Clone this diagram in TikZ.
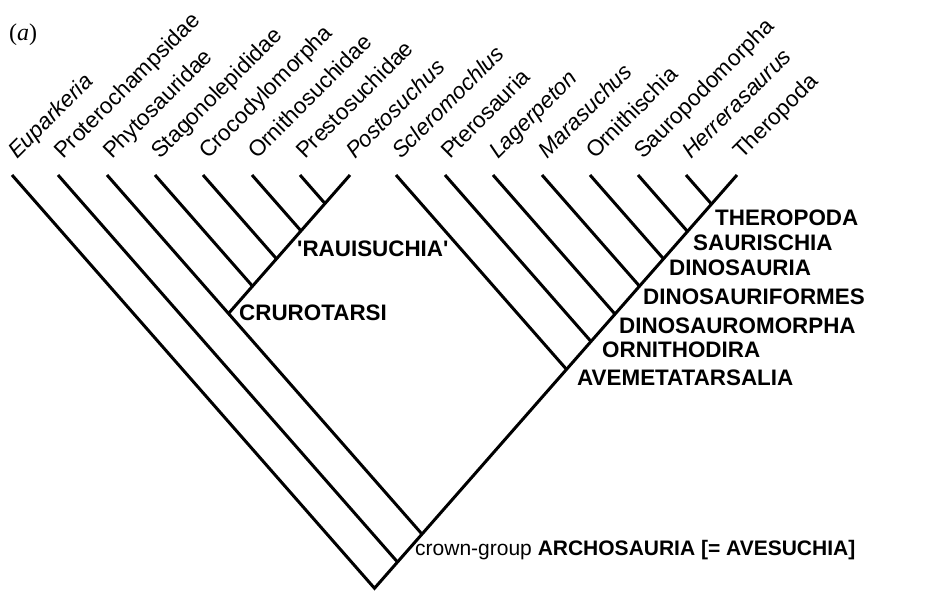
\documentclass[tikz,border=0pt]{standalone}
\usepackage{fontspec}
\setmainfont{Liberation Sans}
\newfontfamily\figfont{Liberation Serif}
\newcommand{\cladenode}[3]{\coordinate (#1) at ({(#2+#3)/2},{175+1.14*(#3-#2)/2});}
\begin{document}
\begin{tikzpicture}[x=1pt,y=-1pt,
  br/.style={line width=3pt, line cap=butt, line join=miter},
  tiplab/.style={rotate=45, anchor=base west, inner sep=0pt, font=\fontsize{22.5}{27}\selectfont},
  cladelab/.style={anchor=base west, inner sep=0pt, font=\fontsize{22.4}{27}\selectfont\bfseries}]
\useasboundingbox (0,0) rectangle (943,592);
% tips
\coordinate (eup) at (12,175);
\coordinate (pro) at (58,175);
\coordinate (phy) at (107,175);
\coordinate (sta) at (155,175);
\coordinate (cro) at (203,175);
\coordinate (orn) at (252,175);
\coordinate (pre) at (300,175);
\coordinate (pos) at (350,175);
\coordinate (scl) at (396,175);
\coordinate (pte) at (445,175);
\coordinate (lag) at (493,175);
\coordinate (mar) at (542,175);
\coordinate (ornt) at (590,175);
\coordinate (sau) at (638,175);
\coordinate (her) at (686,175);
\coordinate (the) at (737,175);
% internal nodes
\cladenode{R}{12}{737}
\cladenode{P}{58}{737}
\cladenode{A}{107}{737}
\cladenode{C}{107}{350}
\cladenode{C2}{155}{350}
\cladenode{C3}{203}{350}
\cladenode{C4}{252}{350}
\cladenode{C5}{300}{350}
\cladenode{V}{396}{737}
\cladenode{O}{445}{737}
\cladenode{D1}{493}{737}
\cladenode{D2}{542}{737}
\cladenode{D3}{590}{737}
\cladenode{S}{638}{737}
\cladenode{T}{686}{737}
% branches
\draw[br] (eup) -- (R) -- (the);
\draw[br] (pro) -- (P);
\draw[br] (phy) -- (C) -- (A);
\draw[br] (pos) -- (C);
\draw[br] (sta) -- (C2);
\draw[br] (cro) -- (C3);
\draw[br] (orn) -- (C4);
\draw[br] (pre) -- (C5);
\draw[br] (scl) -- (V);
\draw[br] (pte) -- (O);
\draw[br] (lag) -- (D1);
\draw[br] (mar) -- (D2);
\draw[br] (ornt) -- (D3);
\draw[br] (sau) -- (S);
\draw[br] (her) -- (T);
% tip labels
\node[tiplab] (leup) at ([shift={(5,-15)}]eup) {\itshape Euparkeria};
\node[tiplab] (lpro) at ([shift={(5,-15)}]pro) {Proterochampsidae};
\node[tiplab] (lphy) at ([shift={(5,-15)}]phy) {Phytosauridae};
\node[tiplab] (lsta) at ([shift={(5,-15)}]sta) {Stagonolepididae};
\node[tiplab] (lcro) at ([shift={(5,-15)}]cro) {Crocodylomorpha};
\node[tiplab] (lorn) at ([shift={(5,-15)}]orn) {Ornithosuchidae};
\node[tiplab] (lpre) at ([shift={(5,-15)}]pre) {Prestosuchidae};
\node[tiplab] (lpos) at ([shift={(5,-15)}]pos) {\itshape Postosuchus};
\node[tiplab] (lscl) at ([shift={(5,-15)}]scl) {\itshape Scleromochlus};
\node[tiplab] (lpte) at ([shift={(5,-15)}]pte) {Pterosauria};
\node[tiplab] (llag) at ([shift={(5,-15)}]lag) {\itshape Lagerpeton};
\node[tiplab] (lmar) at ([shift={(5,-15)}]mar) {\itshape Marasuchus};
\node[tiplab] (lornt) at ([shift={(5,-15)}]ornt) {Ornithischia};
\node[tiplab] (lsau) at ([shift={(5,-15)}]sau) {Sauropodomorpha};
\node[tiplab] (lher) at ([shift={(5,-15)}]her) {\itshape Herrerasaurus};
\node[tiplab] (lthe) at ([shift={(5,-15)}]the) {Theropoda};
% clade labels
\node[cladelab] (kT) at (715,225) {THEROPODA};
\node[cladelab] (kS) at (693,250) {SAURISCHIA};
\node[cladelab] (kD3) at (669,275) {DINOSAURIA};
\node[cladelab] (kD2) at (643,304) {DINOSAURIFORMES};
\node[cladelab] (kD1) at (619,333) {DINOSAUROMORPHA};
\node[cladelab] (kO) at (602,357) {ORNITHODIRA};
\node[cladelab] (kV) at (577,385) {AVEMETATARSALIA};
\node[cladelab] (kC4) at (297,256) {\textquotesingle RAUISUCHIA\textquotesingle};
\node[cladelab] (kC) at (239,320) {CRUROTARSI};
\node[anchor=base west, inner sep=0pt, font=\fontsize{21}{25}\selectfont] (kA) at (415,555.5) {crown-group \textbf{ARCHOSAURIA [= AVESUCHIA]}};
\node[anchor=west, inner sep=0pt, font=\figfont\fontsize{24}{28}\selectfont] (fig) at (9,35) {(\textit{a})};
\end{tikzpicture}
\end{document}
